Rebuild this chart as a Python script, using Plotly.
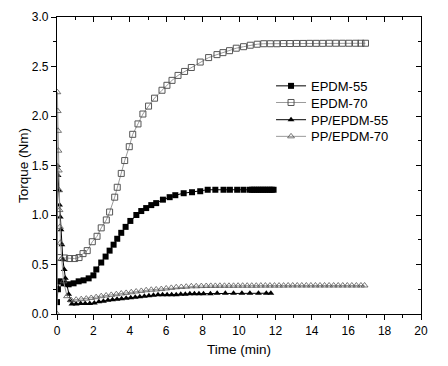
import plotly.graph_objects as go

# ---------------- data ----------------
t_epdm70 = [0.13, 0.42, 0.69, 0.97, 1.21, 1.43, 1.66, 1.94, 2.2, 2.43, 2.71, 2.89, 3.17, 3.31, 3.53,
            3.72, 3.97, 4.16, 4.45, 4.72, 5.03, 5.36, 5.77, 6.04, 6.32, 6.65, 7.01, 7.38, 7.87, 8.33,
            8.79, 9.12, 9.48, 9.85, 10.25, 10.62, 11.0, 11.36, 11.72, 12.08, 12.44, 12.8, 13.16,
            13.52, 13.88, 14.24, 14.6, 14.96, 15.32, 15.68, 16.04, 16.4, 16.7, 16.95]
y_epdm70 = [0.57, 0.566, 0.56, 0.56, 0.57, 0.61, 0.64, 0.73, 0.785, 0.87, 0.95, 1.03, 1.18, 1.28, 1.42,
            1.55, 1.69, 1.815, 1.92, 2.02, 2.10, 2.18, 2.26, 2.31, 2.36, 2.41, 2.45, 2.49, 2.545, 2.59,
            2.62, 2.64, 2.66, 2.685, 2.70, 2.715, 2.725, 2.73, 2.73, 2.73, 2.732, 2.732, 2.733,
            2.733, 2.734, 2.734, 2.734, 2.735, 2.735, 2.735, 2.735, 2.735, 2.735, 2.735]

t_epdm55 = [0.0, 0.05, 0.14, 0.36, 0.64, 0.91, 1.19, 1.46, 1.74, 2.0, 2.16, 2.43, 2.67, 2.89, 3.11,
            3.31, 3.53, 3.77, 4.03, 4.36, 4.63, 4.9, 5.18, 5.45, 5.82, 6.19, 6.5, 6.96, 7.42, 7.87,
            8.28, 8.7, 9.15, 9.5, 9.9, 10.25, 10.6, 10.72, 10.84, 10.96, 11.08, 11.2, 11.32, 11.44,
            11.56, 11.68, 11.8, 11.9]
y_epdm55 = [0.12, 0.25, 0.33, 0.31, 0.30, 0.31, 0.33, 0.34, 0.36, 0.39, 0.45, 0.52, 0.58, 0.64, 0.70,
            0.76, 0.82, 0.88, 0.94, 1.0, 1.04, 1.07, 1.10, 1.12, 1.155, 1.18, 1.20, 1.22, 1.23, 1.24,
            1.255, 1.255, 1.255, 1.255, 1.255, 1.255, 1.255, 1.255, 1.255, 1.255, 1.255, 1.255, 1.255,
            1.255, 1.255, 1.255, 1.255, 1.255]

t_pp55 = [0.0, 0.03, 0.06, 0.1, 0.14, 0.18, 0.22, 0.27, 0.32, 0.4, 0.46, 0.55, 0.64, 0.73, 0.82,
          1.05, 1.3, 1.55, 1.8, 2.05, 2.3, 2.55, 2.8, 3.05, 3.3, 3.55, 3.8, 4.05, 4.3, 4.55, 4.8,
          5.05, 5.3, 5.55, 5.8, 6.05, 6.3, 6.55, 6.8, 7.05, 7.3, 7.55, 7.8, 8.05, 8.43, 8.8, 9.25,
          9.7, 10.16, 10.6, 11.07, 11.5, 11.75]
y_pp55 = [0.25, 1.5, 1.4, 1.25, 1.1, 0.98, 0.85, 0.7, 0.55, 0.45, 0.36, 0.29, 0.2, 0.14, 0.1,
          0.1, 0.105, 0.105, 0.105, 0.11, 0.125, 0.13, 0.14, 0.145, 0.15, 0.155, 0.16, 0.165, 0.17,
          0.175, 0.18, 0.185, 0.19, 0.195, 0.195, 0.195, 0.195, 0.195, 0.2, 0.2, 0.205, 0.205, 0.205,
          0.205, 0.205, 0.21, 0.21, 0.21, 0.21, 0.21, 0.21, 0.21, 0.21]

t_pp70 = [0.0, 0.02, 0.04, 0.06, 0.08, 0.1, 0.12, 0.14, 0.16, 0.19, 0.26, 0.36, 0.55, 0.79, 1.05,
          1.33, 1.61, 1.88, 2.15, 2.43, 2.7, 2.98, 3.26, 3.53, 3.8, 4.08, 4.35, 4.63, 4.9, 5.18,
          5.45, 5.73, 6.0, 6.28, 6.55, 6.83, 7.1, 7.38, 7.65, 7.93, 8.2, 8.45, 8.7, 8.95, 9.2,
          9.45, 9.7, 9.95, 10.2, 10.45, 10.7, 10.95, 11.2, 11.45, 11.7, 11.95, 12.2, 12.45, 12.7,
          12.95, 13.2, 13.45, 13.7, 13.95, 14.2, 14.45, 14.7, 14.95, 15.2, 15.45, 15.7, 15.95,
          16.2, 16.45, 16.7, 16.9]
y_pp70 = [0.0, 2.24, 2.05, 1.85, 1.65, 1.45, 1.25, 1.05, 0.88, 0.72, 0.56, 0.33, 0.18, 0.138, 0.145,
          0.15, 0.155, 0.162, 0.17, 0.18, 0.187, 0.193, 0.2, 0.207, 0.213, 0.22, 0.227, 0.233, 0.24,
          0.245, 0.248, 0.252, 0.258, 0.264, 0.27, 0.273, 0.276, 0.28, 0.28, 0.282, 0.283, 0.284,
          0.284, 0.285, 0.285, 0.285, 0.285, 0.286, 0.286, 0.286, 0.286, 0.286, 0.287, 0.287, 0.287,
          0.287, 0.287, 0.287, 0.288, 0.288, 0.288, 0.288, 0.288, 0.288, 0.288, 0.288, 0.288, 0.288,
          0.288, 0.288, 0.288, 0.288, 0.288, 0.288, 0.288, 0.288]

x_ticks = [0, 2, 4, 6, 8, 10, 12, 14, 16, 18, 20]
y_ticks = [0.0, 0.5, 1.0, 1.5, 2.0, 2.5, 3.0]

FONT = "Arial, Liberation Sans, sans-serif"
GRAY_EDGE = "#555555"
GRAY_LINE = "#9a9a9a"

fig = go.Figure()
fig.add_trace(go.Scatter(x=t_epdm55, y=y_epdm55, name="EPDM-55", mode="lines+markers",
                         legend="legend",
                         line=dict(color="black", width=1),
                         marker=dict(symbol="square", size=6, color="black")))
fig.add_trace(go.Scatter(x=t_epdm70, y=y_epdm70, name="EPDM-70", mode="lines+markers",
                         legend="legend2",
                         line=dict(color=GRAY_LINE, width=1),
                         marker=dict(symbol="square-open", size=6, color=GRAY_EDGE,
                                     line=dict(width=1))))
fig.add_trace(go.Scatter(x=t_pp55, y=y_pp55, name="PP/EPDM-55", mode="lines+markers",
                         legend="legend3",
                         line=dict(color="black", width=1),
                         marker=dict(symbol="triangle-up", size=6, color="black")))
fig.add_trace(go.Scatter(x=t_pp70, y=y_pp70, name="PP/EPDM-70", mode="lines+markers",
                         legend="legend4",
                         line=dict(color=GRAY_LINE, width=1),
                         marker=dict(symbol="triangle-up-open", size=6, color=GRAY_EDGE,
                                     line=dict(width=0.8))))
# empty trace so that the mirrored top/right axes get drawn
fig.add_trace(go.Scatter(x=[None], y=[None], xaxis="x2", yaxis="y2", showlegend=False,
                         hoverinfo="skip", mode="markers"))

axis_common = dict(showline=True, linecolor="black", linewidth=1.2, showgrid=False,
                   zeroline=False, tickcolor="black", tickwidth=1, automargin=False)

def leg(y):
    return dict(x=0.588, y=y, xanchor="left", yanchor="middle",
                bgcolor="rgba(0,0,0,0)", font=dict(size=13, family=FONT, color="black"),
                itemwidth=30)

fig.update_layout(
    width=440, height=358,
    margin=dict(l=48.5, r=27, t=9, b=52),
    paper_bgcolor="white", plot_bgcolor="white",
    font=dict(family=FONT, size=12, color="black"),
    showlegend=True,
    legend=leg(0.768), legend2=leg(0.712), legend3=leg(0.654), legend4=leg(0.598),
    xaxis=dict(range=[0, 20], tickvals=x_ticks, ticks="outside", ticklen=5,
               minor=dict(ticks="outside", ticklen=3, dtick=1, tickcolor="black"),
               title=dict(text="Time (min)", font=dict(size=13.5), standoff=7.5),
               **axis_common),
    yaxis=dict(range=[0, 3], tickvals=y_ticks, tickformat=".1f", ticks="outside", ticklen=5,
               minor=dict(ticks="outside", ticklen=3, dtick=0.25, tickcolor="black"),
               title=dict(text="Torque (Nm)", font=dict(size=13.5), standoff=0),
               **axis_common),
    xaxis2=dict(range=[0, 20], overlaying="x", side="top", tickvals=x_ticks, ticks="inside",
                ticklen=5, showticklabels=False,
                minor=dict(ticks="inside", ticklen=3, dtick=1, tickcolor="black"),
                **axis_common),
    yaxis2=dict(range=[0, 3], overlaying="y", side="right", tickvals=y_ticks, ticks="inside",
                ticklen=5, showticklabels=False,
                minor=dict(ticks="inside", ticklen=3, dtick=0.25, tickcolor="black"),
                **axis_common),
)

fig.write_html("out.html")
